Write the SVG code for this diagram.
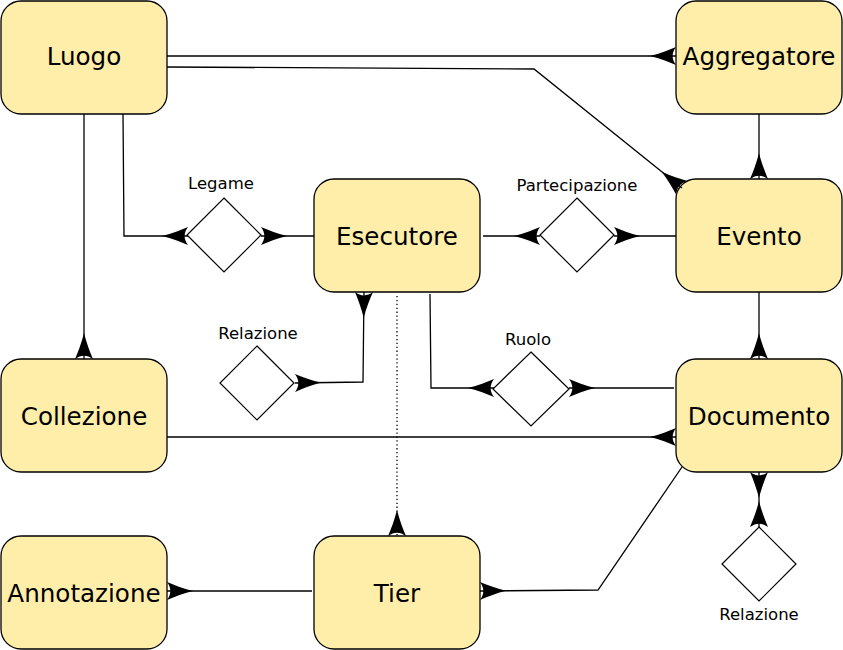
<svg xmlns="http://www.w3.org/2000/svg" width="843" height="650" viewBox="0 0 843 650">
<style>
.node rect{fill:#ffeeaa;stroke:#000;stroke-width:1.3}
.node text{font-family:"DejaVu Sans",sans-serif;font-size:24.6px;font-weight:normal;text-anchor:middle;fill:#000}
.rel polygon{fill:#fff;stroke:#000;stroke-width:1.2}
.rel text{font-family:"DejaVu Sans",sans-serif;font-size:16.5px;text-anchor:middle;fill:#000}
.edges path{fill:none;stroke:#000;stroke-width:1.3;marker-end:url(#ah)}
.edges path.both{marker-start:url(#ah)}
.edges path.dot{stroke-dasharray:1.3 2.6}
</style>
<defs>
<marker id="ah" markerUnits="userSpaceOnUse" orient="auto-start-reverse" viewBox="-30 -10 32 20" markerWidth="32" markerHeight="20" refX="0" refY="0" overflow="visible">
<path d="M-26,0 C-16,-2.5 -7,-6 0,-9 C-4.5,-3 -4.5,3 0,9 C-7,6 -16,2.5 -26,0 Z" fill="#000"/>
</marker>
</defs>
<g class="node" id="luogo"><rect x="1" y="1" width="166" height="113" rx="20"/><text x="84" y="65">Luogo</text></g>
<g class="node" id="aggregatore"><rect x="676" y="1" width="166" height="113" rx="20"/><text x="759" y="65">Aggregatore</text></g>
<g class="node" id="esecutore"><rect x="314" y="179" width="166" height="113" rx="20"/><text x="397" y="245">Esecutore</text></g>
<g class="node" id="evento"><rect x="676" y="179" width="166" height="113" rx="20"/><text x="759" y="245">Evento</text></g>
<g class="node" id="collezione"><rect x="1" y="359" width="166" height="113" rx="20"/><text x="84" y="425">Collezione</text></g>
<g class="node" id="documento"><rect x="676" y="359" width="166" height="113" rx="20"/><text x="759" y="425">Documento</text></g>
<g class="node" id="annotazione"><rect x="1" y="536" width="166" height="113" rx="20"/><text x="84" y="602">Annotazione</text></g>
<g class="node" id="tier"><rect x="314" y="536" width="166" height="113" rx="20"/><text x="397" y="602">Tier</text></g>
<g class="rel" id="legame"><polygon points="224,198 261,235 224,272 187,235"/><text x="221" y="189">Legame</text></g>
<g class="rel" id="partecipazione"><polygon points="577,198 614,235 577,272 540,235"/><text x="577" y="191">Partecipazione</text></g>
<g class="rel" id="relazione1"><polygon points="257,346 294,383 257,420 220,383"/><text x="258" y="339">Relazione</text></g>
<g class="rel" id="ruolo"><polygon points="531,352 569,389 531,426 493,389"/><text x="528" y="345">Ruolo</text></g>
<g class="rel" id="relazione2"><polygon points="759,527 796,564 759,601 722,564"/><text x="759" y="620">Relazione</text></g>
<g class="edges" id="connectors">
<path d="M167,56 H676"/>
<path d="M167,67 L534,69 L682,188"/>
<path d="M759,114 V179"/>
<path d="M84,114 V359"/>
<path d="M123,114 L124,236 H188"/>
<path d="M314,236 H261"/>
<path d="M483,236 H540"/>
<path d="M676,236 H614"/>
<path class="both" d="M295,383 L363,382 L364,292"/>
<path class="dot" d="M397,296 V536"/>
<path d="M430,294 L431,388 H494"/>
<path d="M674,388 H569"/>
<path d="M167,437 H676"/>
<path d="M759,292 V359"/>
<path class="both" d="M759,472 V527"/>
<path d="M682,467 L598,590 L480,591"/>
<path d="M312,591 H167"/>
</g>
</svg>
